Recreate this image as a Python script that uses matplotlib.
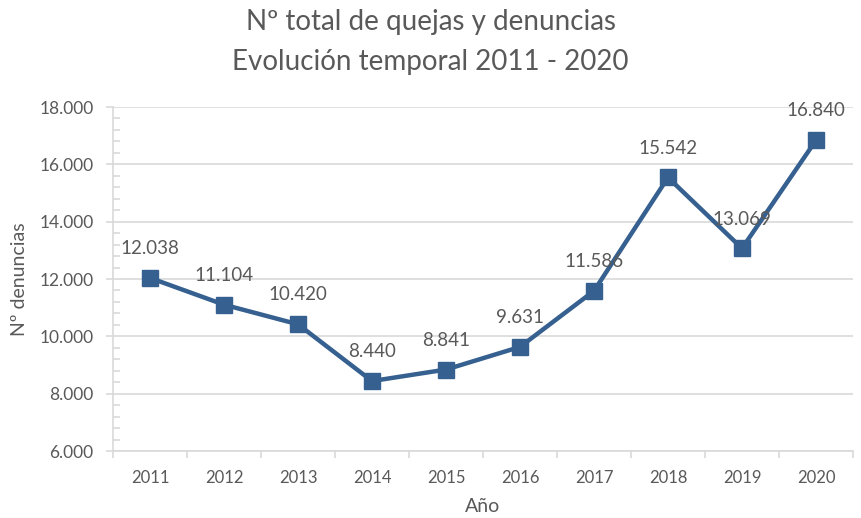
import matplotlib
matplotlib.use("Agg")
import matplotlib.pyplot as plt
from matplotlib.ticker import FuncFormatter, MultipleLocator

years = ["2011", "2012", "2013", "2014", "2015", "2016", "2017", "2018", "2019", "2020"]
complaints = [12038, 11104, 10420, 8440, 8841, 9631, 11586, 15542, 13069, 16840]

LINE = "#35608F"
TEXT = "#595959"
GRID = "#D9D9D9"

plt.rcParams["font.family"] = ["Lato", "DejaVu Sans"]


def thousands(v, _pos=None):
    return f"{int(round(v)):,}".replace(",", ".")


fig = plt.figure(figsize=(8.61, 5.18), dpi=100)
ax = fig.add_axes([113 / 861, 1 - 451 / 518, 740 / 861, 344 / 518])

x = list(range(len(years)))
ax.plot(x, complaints, color=LINE, lw=3.2, marker="s", ms=11, zorder=3)
for xi, v in zip(x, complaints):
    ax.annotate(thousands(v), (xi, v), xytext=(0, 15), textcoords="offset points",
                ha="center", va="bottom", fontsize=13.5, color=TEXT)

ax.set_xlim(-0.5, len(years) - 0.5)
ax.set_ylim(6000, 18000)
ax.yaxis.set_major_locator(MultipleLocator(2000))
ax.yaxis.set_minor_locator(MultipleLocator(400))
ax.yaxis.set_major_formatter(FuncFormatter(thousands))
ax.set_xticks(x)
ax.set_xticklabels(years)
ax.set_xticks([i - 0.5 for i in range(len(years) + 1)], minor=True)

ax.grid(True, axis="y", which="major", color=GRID, lw=1.2, zorder=0)
for side in ("top", "right"):
    ax.spines[side].set_visible(False)
for side in ("left", "bottom"):
    ax.spines[side].set_color(GRID)
    ax.spines[side].set_linewidth(1.2)

ax.tick_params(axis="x", which="major", length=0, pad=14, labelsize=12, labelcolor=TEXT)
ax.tick_params(axis="x", which="minor", length=5, direction="out", color=GRID, width=1.2)
ax.tick_params(axis="y", which="major", length=5, direction="out", color=GRID, width=1.2,
               labelsize=12.5, labelcolor=TEXT, pad=9)
ax.tick_params(axis="y", which="minor", length=5, direction="in", color=GRID, width=1.2)

ax.set_xlabel("Año", fontsize=14, color=TEXT, labelpad=8)
ax.set_ylabel("Nº denuncias", fontsize=14, color=TEXT, labelpad=8)

fig.text(0.5, 0.958, "Nº total de quejas y denuncias", ha="center", va="center",
         fontsize=20, color=TEXT)
fig.text(0.5, 0.88, "Evolución temporal 2011 - 2020", ha="center", va="center",
         fontsize=20, color=TEXT)

fig.savefig("out.png", dpi=100, facecolor="white")
